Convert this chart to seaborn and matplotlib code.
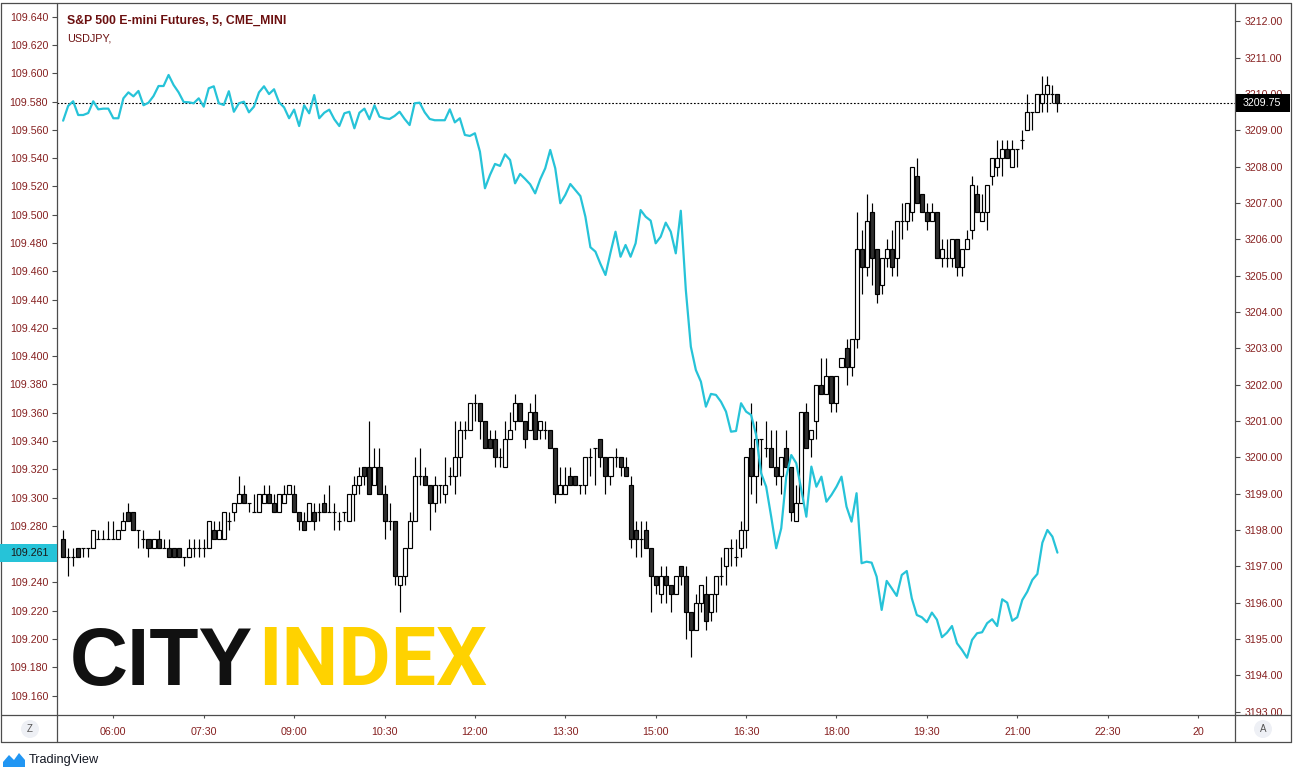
import numpy as np
import pandas as pd
import matplotlib
matplotlib.use("Agg")
import matplotlib.pyplot as plt
import matplotlib.transforms as mtransforms
from matplotlib.patches import Rectangle, Circle, Polygon
from matplotlib.lines import Line2D
import seaborn as sns

# ---------------- data ----------------
first_bar_minute = 310      # 05:10, 5-minute bars
bar_step_minutes = 5

spx_open = [
    3197.75, 3197.25, 3197.25, 3197.5, 3197.5, 3197.5, 3197.5, 3197.75, 3197.75, 3197.75,
    3197.75, 3197.75, 3198.0, 3198.5, 3198.5, 3198.0, 3197.75, 3197.75, 3197.5, 3197.75,
    3197.5, 3197.5, 3197.5, 3197.5, 3197.25, 3197.25, 3197.5, 3197.5, 3197.5, 3197.5,
    3198.0, 3197.75, 3197.75, 3198.25, 3198.5, 3198.75, 3199.0, 3198.75, 3198.5, 3198.5,
    3198.75, 3199.0, 3198.75, 3198.5, 3198.75, 3199.0, 3199.0, 3198.5, 3198.25, 3198.25,
    3198.5, 3198.5, 3198.75, 3198.5, 3198.5, 3198.25, 3198.5, 3198.25, 3199.0, 3199.25,
    3199.75, 3199.75, 3199.25, 3199.75, 3199.0, 3198.25, 3198.25, 3196.5, 3196.75, 3197.5,
    3198.25, 3199.5, 3199.5, 3199.25, 3198.75, 3199.25, 3199.0, 3199.5, 3199.5, 3200.0,
    3200.75, 3200.75, 3201.5, 3201.5, 3201.0, 3200.5, 3200.5, 3200.0, 3199.75, 3200.5,
    3201.0, 3201.5, 3201.0, 3200.75, 3201.25, 3200.75, 3200.75, 3200.75, 3200.25, 3199.0,
    3199.0, 3199.5, 3199.5, 3199.25, 3199.25, 3200.0, 3200.25, 3200.5, 3200.0, 3199.5,
    3200.0, 3200.0, 3199.75, 3199.25, 3198.0, 3197.75, 3198.0, 3197.5, 3196.75, 3196.25,
    3196.75, 3196.5, 3196.25, 3197.0, 3196.75, 3195.75, 3195.25, 3196.0, 3196.25, 3195.75,
    3196.25, 3196.75, 3197.0, 3197.5, 3197.25, 3197.5, 3198.0, 3200.25, 3199.5, 3200.5,
    3200.25, 3200.25, 3199.75, 3199.5, 3200.25, 3199.75, 3198.25, 3198.75, 3201.25, 3200.5,
    3201.0, 3202.0, 3201.75, 3202.25, 3201.5, 3202.5, 3203.0, 3202.5, 3203.25, 3205.75,
    3205.25, 3206.75, 3205.75, 3204.75, 3205.5, 3205.75, 3205.5, 3206.5, 3206.5, 3206.75,
    3207.75, 3207.25, 3206.75, 3206.5, 3206.75, 3205.5, 3205.5, 3205.5, 3206.0, 3205.25,
    3205.75, 3206.25, 3207.25, 3206.5, 3206.75, 3207.75, 3208.0, 3208.25, 3208.5, 3208.0,
    3208.5, 3208.75, 3209.0, 3209.5, 3209.5, 3209.75, 3210.0, 3210.0, 3210.0,
]
spx_high = [
    3198.0, 3197.5, 3197.5, 3197.5, 3197.5, 3197.5, 3198.0, 3198.0, 3198.0, 3198.25,
    3198.25, 3198.0, 3198.5, 3198.75, 3198.5, 3198.0, 3198.0, 3197.75, 3197.75, 3198.0,
    3197.75, 3197.75, 3197.5, 3197.5, 3197.25, 3197.75, 3197.75, 3197.75, 3197.75, 3198.25,
    3198.25, 3198.25, 3198.5, 3198.5, 3198.75, 3199.5, 3199.25, 3198.75, 3199.0, 3199.0,
    3199.25, 3199.25, 3199.0, 3199.0, 3199.25, 3199.25, 3199.25, 3198.5, 3198.5, 3198.75,
    3198.75, 3198.75, 3199.0, 3199.25, 3198.75, 3198.5, 3198.5, 3199.0, 3199.5, 3199.75,
    3199.75, 3201.0, 3200.25, 3200.25, 3199.25, 3198.75, 3198.25, 3196.75, 3197.5, 3198.5,
    3200.0, 3200.25, 3199.75, 3199.25, 3199.5, 3199.25, 3200.0, 3199.75, 3201.0, 3201.0,
    3201.0, 3201.5, 3201.75, 3201.5, 3201.0, 3200.75, 3200.75, 3200.25, 3201.0, 3201.25,
    3201.75, 3201.5, 3201.0, 3201.5, 3201.75, 3201.0, 3201.0, 3200.75, 3200.25, 3199.75,
    3199.75, 3199.75, 3199.5, 3199.25, 3200.0, 3200.25, 3200.25, 3200.5, 3200.0, 3200.0,
    3200.25, 3200.0, 3200.0, 3199.5, 3198.25, 3198.25, 3198.25, 3197.5, 3196.75, 3197.0,
    3197.0, 3196.5, 3196.75, 3197.0, 3197.0, 3195.75, 3196.25, 3196.5, 3196.75, 3196.25,
    3196.75, 3197.25, 3197.5, 3197.75, 3197.75, 3198.25, 3200.0, 3201.5, 3201.0, 3200.5,
    3201.0, 3200.75, 3200.75, 3200.0, 3200.75, 3199.75, 3199.25, 3201.25, 3201.5, 3200.75,
    3202.0, 3202.75, 3202.75, 3202.25, 3202.25, 3202.75, 3203.25, 3203.25, 3206.75, 3206.25,
    3207.25, 3207.0, 3205.75, 3205.5, 3206.0, 3206.25, 3206.5, 3207.0, 3207.0, 3208.0,
    3208.25, 3207.25, 3207.0, 3207.0, 3206.75, 3206.0, 3206.0, 3206.0, 3206.0, 3205.75,
    3206.25, 3207.75, 3207.5, 3207.25, 3207.5, 3208.25, 3208.75, 3208.75, 3208.75, 3208.75,
    3208.5, 3209.0, 3210.0, 3209.5, 3210.0, 3210.5, 3210.5, 3210.25, 3210.0,
]
spx_low = [
    3197.25, 3196.75, 3197.0, 3197.25, 3197.25, 3197.25, 3197.5, 3197.75, 3197.75, 3197.75,
    3197.75, 3197.75, 3198.0, 3198.25, 3198.0, 3197.5, 3197.5, 3197.25, 3197.5, 3197.5,
    3197.5, 3197.25, 3197.25, 3197.25, 3197.0, 3197.25, 3197.25, 3197.25, 3197.25, 3197.5,
    3197.75, 3197.75, 3197.75, 3198.0, 3198.25, 3198.75, 3198.75, 3198.5, 3198.5, 3198.5,
    3198.75, 3198.75, 3198.5, 3198.5, 3198.75, 3199.0, 3198.5, 3198.0, 3198.0, 3198.25,
    3198.0, 3198.25, 3198.5, 3198.5, 3198.0, 3198.0, 3198.25, 3198.25, 3198.25, 3199.0,
    3199.25, 3199.0, 3199.25, 3199.0, 3197.75, 3198.0, 3196.5, 3195.75, 3196.5, 3197.5,
    3198.25, 3199.25, 3199.25, 3198.0, 3198.5, 3198.75, 3198.75, 3199.25, 3199.0, 3199.5,
    3200.5, 3200.75, 3201.0, 3200.5, 3200.25, 3200.25, 3199.75, 3199.75, 3199.75, 3200.5,
    3200.75, 3201.0, 3200.25, 3200.75, 3200.5, 3200.5, 3200.5, 3200.25, 3198.75, 3199.0,
    3199.0, 3199.25, 3199.25, 3199.0, 3199.0, 3199.5, 3199.25, 3199.75, 3199.0, 3199.25,
    3199.75, 3199.5, 3199.5, 3197.5, 3197.25, 3197.25, 3197.5, 3195.75, 3196.25, 3196.0,
    3196.0, 3195.75, 3196.25, 3196.5, 3195.0, 3194.5, 3195.25, 3195.75, 3195.25, 3195.5,
    3195.75, 3196.5, 3196.5, 3197.0, 3197.0, 3197.25, 3197.5, 3199.0, 3198.75, 3199.25,
    3200.0, 3199.75, 3199.25, 3199.0, 3199.75, 3198.25, 3198.25, 3198.75, 3200.25, 3200.0,
    3200.5, 3201.75, 3201.75, 3201.25, 3201.25, 3202.5, 3202.0, 3202.25, 3203.0, 3204.5,
    3205.0, 3204.75, 3204.25, 3204.5, 3205.25, 3205.0, 3205.0, 3206.0, 3206.25, 3206.5,
    3207.0, 3206.75, 3206.25, 3206.5, 3205.5, 3205.25, 3205.25, 3205.25, 3205.0, 3205.0,
    3205.75, 3206.0, 3206.75, 3206.5, 3206.25, 3207.5, 3207.75, 3207.75, 3208.25, 3208.0,
    3208.0, 3208.5, 3209.0, 3209.0, 3209.5, 3209.5, 3209.5, 3209.75, 3209.5,
]
spx_close = [
    3197.25, 3197.25, 3197.25, 3197.25, 3197.5, 3197.5, 3198.0, 3197.75, 3197.75, 3197.75,
    3197.75, 3198.0, 3198.25, 3198.25, 3198.0, 3198.0, 3197.75, 3197.5, 3197.75, 3197.5,
    3197.5, 3197.25, 3197.25, 3197.25, 3197.25, 3197.5, 3197.5, 3197.5, 3197.5, 3198.25,
    3197.75, 3198.0, 3198.5, 3198.25, 3198.75, 3199.0, 3198.75, 3198.75, 3198.5, 3199.0,
    3199.0, 3198.75, 3198.5, 3199.0, 3199.0, 3199.25, 3198.5, 3198.25, 3198.0, 3198.75,
    3198.25, 3198.5, 3198.5, 3198.5, 3198.5, 3198.25, 3198.5, 3199.0, 3199.25, 3199.5,
    3199.5, 3199.0, 3199.75, 3199.0, 3198.25, 3198.25, 3196.75, 3196.75, 3197.5, 3198.25,
    3199.5, 3199.5, 3199.25, 3198.75, 3199.25, 3199.25, 3199.25, 3199.5, 3200.0, 3200.75,
    3200.75, 3201.5, 3201.5, 3201.0, 3200.25, 3200.25, 3200.0, 3200.0, 3200.5, 3200.75,
    3201.5, 3201.0, 3200.5, 3201.25, 3200.5, 3201.0, 3200.75, 3200.25, 3199.0, 3199.25,
    3199.25, 3199.25, 3199.25, 3199.25, 3200.0, 3200.0, 3200.25, 3200.0, 3199.5, 3200.0,
    3200.0, 3199.75, 3199.5, 3197.75, 3197.75, 3197.75, 3197.5, 3196.75, 3196.5, 3196.75,
    3196.5, 3196.25, 3196.75, 3196.75, 3195.75, 3195.25, 3196.0, 3196.5, 3195.5, 3196.25,
    3196.75, 3196.75, 3197.5, 3197.5, 3197.25, 3198.0, 3200.0, 3199.5, 3200.5, 3200.5,
    3200.25, 3199.75, 3199.5, 3200.0, 3199.75, 3198.5, 3198.75, 3201.25, 3200.25, 3200.75,
    3202.0, 3201.75, 3202.25, 3201.5, 3202.25, 3202.75, 3202.5, 3203.25, 3205.75, 3205.25,
    3206.5, 3205.5, 3204.5, 3205.5, 3205.75, 3205.25, 3206.5, 3206.5, 3207.0, 3208.0,
    3207.0, 3206.75, 3206.5, 3206.75, 3205.5, 3205.75, 3205.5, 3206.0, 3205.25, 3205.75,
    3206.0, 3207.5, 3206.75, 3206.75, 3207.5, 3208.25, 3208.25, 3208.5, 3208.25, 3208.5,
    3208.5, 3208.75, 3209.5, 3209.5, 3210.0, 3210.0, 3210.25, 3210.0, 3209.75,
]
usdjpy_close = [
    109.5665, 109.5769, 109.5802, 109.5705, 109.5705, 109.5719, 109.5802, 109.5745, 109.5750, 109.5750,
    109.5682, 109.5682, 109.5823, 109.5865, 109.5837, 109.5875, 109.5774, 109.5792, 109.5839, 109.5910,
    109.5910, 109.5988, 109.5917, 109.5865, 109.5797, 109.5795, 109.5788, 109.5823, 109.5764, 109.5894,
    109.5908, 109.5788, 109.5776, 109.5873, 109.5728, 109.5788, 109.5799, 109.5724, 109.5764, 109.5865,
    109.5908, 109.5853, 109.5887, 109.5795, 109.5759, 109.5682, 109.5743, 109.5627, 109.5774, 109.5717,
    109.5846, 109.5682, 109.5721, 109.5743, 109.5675, 109.5627, 109.5717, 109.5728, 109.5611, 109.5721,
    109.5750, 109.5675, 109.5774, 109.5693, 109.5682, 109.5677, 109.5698, 109.5728, 109.5677, 109.5634,
    109.5788, 109.5792, 109.5724, 109.5677, 109.5668, 109.5668, 109.5668, 109.5745, 109.5653, 109.5682,
    109.5564, 109.5557, 109.5576, 109.5446, 109.5187, 109.5281, 109.5359, 109.5345, 109.5427, 109.5387,
    109.5222, 109.5288, 109.5253, 109.5215, 109.5151, 109.5250, 109.5328, 109.5458, 109.5328, 109.5081,
    109.5140, 109.5217, 109.5175, 109.5132, 109.4986, 109.4770, 109.4739, 109.4652, 109.4574, 109.4732,
    109.4880, 109.4703, 109.4786, 109.4703, 109.4798, 109.5033, 109.4986, 109.4958, 109.4798, 109.4845,
    109.4944, 109.4880, 109.4727, 109.5028, 109.4468, 109.4067, 109.3902, 109.3820, 109.3643, 109.3733,
    109.3726, 109.3678, 109.3608, 109.3466, 109.3471, 109.3667, 109.3608, 109.3584, 109.3443, 109.3172,
    109.3077, 109.2865, 109.2642, 109.2783, 109.3148, 109.3301, 109.3243, 109.3054, 109.2865, 109.3219,
    109.3077, 109.3148, 109.2971, 109.3019, 109.3077, 109.3148, 109.2936, 109.2830, 109.3031, 109.2536,
    109.2547, 109.2540, 109.2441, 109.2206, 109.2411, 109.2359, 109.2305, 109.2453, 109.2481, 109.2288,
    109.2170, 109.2154, 109.2119, 109.2187, 109.2137, 109.2013, 109.2045, 109.2092, 109.1970, 109.1923,
    109.1868, 109.1994, 109.2041, 109.2048, 109.2112, 109.2140, 109.2092, 109.2281, 109.2257, 109.2129,
    109.2154, 109.2276, 109.2335, 109.2418, 109.2460, 109.2681, 109.2771, 109.2724, 109.2611,
]

time_tick_minutes = [360, 450, 540, 630, 720, 810, 900, 990, 1080, 1170, 1260, 1350, 1440]
time_tick_labels = ["06:00", "07:30", "09:00", "10:30", "12:00", "13:30", "15:00",
                    "16:30", "18:00", "19:30", "21:00", "22:30", "20"]
usdjpy_ticks = [109.16, 109.18, 109.20, 109.22, 109.24, 109.26, 109.28, 109.30, 109.32,
                109.34, 109.36, 109.38, 109.40, 109.42, 109.44, 109.46, 109.48, 109.50,
                109.52, 109.54, 109.56, 109.58, 109.60, 109.62, 109.64]
spx_ticks = [3193, 3194, 3195, 3196, 3197, 3198, 3199, 3200, 3201, 3202, 3203, 3204,
             3205, 3206, 3207, 3208, 3209, 3210, 3211, 3212]

title_main = "S&P 500 E-mini Futures, 5, CME_MINI"
title_sub = "USDJPY,"
logo_left = "CITY"
logo_right = "INDEX"
brand = "TradingView"

# ---------------- styling ----------------
sns.set_theme(style="white")
plt.rcParams["font.family"] = ["Liberation Sans", "DejaVu Sans"]

W, H = 1298, 779
frame_c = "#4d4d4d"
label_c = "#862020"
title_c = "#6b0f0f"
line_c = "#26c3d8"

def fx(x):
    return x / W

def fy(y):
    return 1 - y / H

n = len(spx_close)
assert len(spx_open) == len(spx_high) == len(spx_low) == n == len(usdjpy_close)
df = pd.DataFrame({
    "minute": first_bar_minute + bar_step_minutes * np.arange(n),
    "open": spx_open, "high": spx_high, "low": spx_low, "close": spx_close,
    "usdjpy": usdjpy_close,
})

fig = plt.figure(figsize=(W / 100, H / 100), dpi=100)
fig.patch.set_facecolor("white")
ax = fig.add_axes([fx(57.3), fy(715), fx(1235) - fx(57.3), fy(2.7) - fy(715)])
ax2 = ax.twinx()

# candles (right scale)
up = df["close"] >= df["open"]
ax2.vlines(df["minute"], df["low"], df["high"], colors="black", linewidth=0.85, zorder=2)
for mask, fc in [(up, "white"), (~up, "#2f2f2f")]:
    sub = df[mask]
    ax2.bar(sub["minute"], sub["close"] - sub["open"], bottom=sub["open"], width=4.0,
            color=fc, edgecolor="black", linewidth=0.85, zorder=3)
last_spx = spx_close[-1]
ax2.axhline(last_spx, color="black", linestyle=(0, (1.6, 1.6)), linewidth=0.8, zorder=1)

# USDJPY line (left scale)
sns.lineplot(data=df, x="minute", y="usdjpy", ax=ax, color=line_c, linewidth=1.6, zorder=4)
ax.set_zorder(ax2.get_zorder() + 1)
ax.patch.set_visible(False)

ax.set_xlim(304.2, 1476.8)
ax.set_ylim(109.1463, 109.6499)
ax2.set_ylim(3192.911, 3212.517)

for a in (ax, ax2):
    a.set_xlabel("")
    a.set_ylabel("")
    a.grid(False)
    for s in a.spines.values():
        s.set_visible(False)

last_jpy = usdjpy_close[-1]
half_l = 9.0 / 1414.5     # half height of the last-value box (left scale units)
half_r = 9.0 / 36.33      # half height of the last-value box (right scale units)

ax.set_yticks(usdjpy_ticks)
ax.set_yticklabels([f"{v:.3f}" if abs(v - last_jpy) > 1.3 * half_l else "" for v in usdjpy_ticks])
ax.tick_params(axis="y", left=True, right=False, length=3.6, width=0.8, color=frame_c,
               labelcolor=label_c, labelsize=7.7, pad=3.0)
ax2.set_yticks(spx_ticks)
ax2.set_yticklabels([f"{v:.2f}" for v in spx_ticks])
ax2.tick_params(axis="y", right=True, left=False, length=3.6, width=0.8, color=frame_c,
                labelcolor=label_c, labelsize=7.7, pad=3.0)
ax.set_xticks(time_tick_minutes)
ax.set_xticklabels(time_tick_labels)
ax.tick_params(axis="x", bottom=True, length=2.2, width=0.8, color=frame_c,
               labelcolor=label_c, labelsize=7.7, pad=6.4)
ax2.tick_params(axis="x", bottom=False, labelbottom=False)

# frame lines
def fline(x0, y0, x1, y1):
    fig.add_artist(Line2D([fx(x0), fx(x1)], [fy(y0), fy(y1)], color=frame_c,
                          linewidth=0.9, transform=fig.transFigure, zorder=3))

# cover the bottom of the right scale under the time strip
fig.add_artist(Rectangle((fx(1236), fy(741)), fx(1290) - fx(1236), fy(716) - fy(741),
                         transform=fig.transFigure, facecolor="white", edgecolor="none", zorder=2))
fline(1.3, 2.7, 1291, 2.7)
fline(1.3, 715, 1291, 715)
fline(1.3, 742, 1291, 742)
fline(1.3, 2.7, 1.3, 742)
fline(57.3, 2.7, 57.3, 742)
fline(1235, 2.7, 1235, 742)
fline(1291, 2.7, 1291, 742)

# last value labels
bt_r = mtransforms.blended_transform_factory(fig.transFigure, ax2.transData)
fig.add_artist(Rectangle((fx(1236), last_spx - half_r), fx(1290) - fx(1236), 2 * half_r,
                         transform=bt_r, facecolor="black", edgecolor="none", zorder=4))
fig.text(fx(1243), last_spx, f"{last_spx:.2f}", transform=bt_r, color="white",
         fontsize=7.7, va="center", ha="left", zorder=5)

bt_l = mtransforms.blended_transform_factory(fig.transFigure, ax.transData)
fig.add_artist(Rectangle((fx(0), last_jpy - half_l), fx(57) - fx(0), 2 * half_l,
                         transform=bt_l, facecolor=line_c, edgecolor="none", zorder=4))
fig.text(fx(48.3), last_jpy, f"{last_jpy:.3f}", transform=bt_l, color="#1a1a1a",
         fontsize=7.7, va="center", ha="right", zorder=5)

# titles
fig.text(fx(67), fy(20.5), title_main, fontsize=8.8, fontweight="bold", color=title_c,
         va="center", ha="left")
fig.text(fx(67), fy(38.5), title_sub, fontsize=7.8, color=title_c, va="center", ha="left")

# watermark logo text
fig.text(fx(70), fy(685), logo_left, fontsize=58, fontweight="bold", color="#111111",
         va="baseline", ha="left", zorder=0.5)
fig.text(fx(258), fy(685), logo_right, fontsize=58, fontweight="bold", color="#FFD200",
         family=["Roboto", "Liberation Sans"], va="baseline", ha="left", zorder=0.5)

# Z / A buttons
for cx, letter in [(30, "Z"), (1263, "A")]:
    fig.add_artist(Circle((cx / 100, (H - 729) / 100), 0.09, transform=fig.dpi_scale_trans,
                          facecolor="#eef0f5", edgecolor="none", zorder=4))
    fig.text(fx(cx), fy(729), letter, fontsize=7, color="#555555", va="center", ha="center",
             zorder=5)

# TradingView footer
icon = [(3, 767), (3, 762), (9, 755), (14, 760), (19, 753), (25, 760), (25, 767)]
fig.add_artist(Polygon([(x / 100, (H - y) / 100) for x, y in icon], closed=True,
                       transform=fig.dpi_scale_trans, facecolor="#2196f3", edgecolor="none"))
fig.text(fx(28.3), fy(760), brand, fontsize=9.2, color="#131722", va="center", ha="left")

fig.savefig("out.png", dpi=100, facecolor="white")
